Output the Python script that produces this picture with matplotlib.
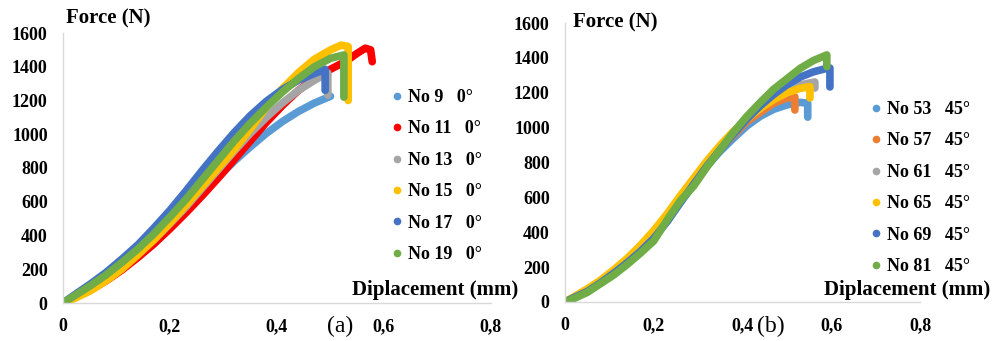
import matplotlib
matplotlib.use("Agg")
import matplotlib.pyplot as plt
from matplotlib.lines import Line2D

plt.rcParams['font.family'] = ['Liberation Serif', 'DejaVu Serif']

# ---- panel (a): 0 degree specimens ----
names_a = ["No 9   0°", "No 11   0°", "No 13   0°", "No 15   0°", "No 17   0°", "No 19   0°"]
colors_a = ["#5B9BD5", "#FF0000", "#A5A5A5", "#FFC000", "#4472C4", "#70AD47"]

x9 = [0, 0.02, 0.05, 0.08, 0.11, 0.14, 0.17, 0.20, 0.23, 0.26, 0.29, 0.32, 0.35, 0.38, 0.41, 0.44, 0.47, 0.50]
f9 = [0, 30, 75, 135, 200, 275, 360, 450, 545, 645, 745, 840, 925, 1005, 1075, 1135, 1185, 1225]
x11 = [0, 0.02, 0.05, 0.08, 0.11, 0.14, 0.17, 0.20, 0.23, 0.26, 0.29, 0.32, 0.35, 0.38, 0.41, 0.44,
       0.47, 0.50, 0.53, 0.55, 0.565, 0.575, 0.578]
f11 = [0, 35, 75, 130, 195, 270, 350, 440, 535, 635, 740, 850, 960, 1070, 1170, 1260,
       1330, 1385, 1435, 1480, 1510, 1500, 1430]
x13 = [0, 0.02, 0.05, 0.08, 0.11, 0.14, 0.17, 0.20, 0.23, 0.26, 0.29, 0.32, 0.35, 0.38, 0.41, 0.44,
       0.47, 0.495, 0.495]
f13 = [0, 30, 80, 140, 210, 290, 375, 470, 570, 680, 790, 900, 1005, 1100, 1185, 1260,
       1320, 1363, 1232]
x15 = [0, 0.02, 0.05, 0.08, 0.11, 0.14, 0.17, 0.20, 0.23, 0.26, 0.29, 0.32, 0.35, 0.38, 0.41, 0.44,
       0.47, 0.50, 0.52, 0.533, 0.533]
f15 = [0, 25, 70, 130, 200, 285, 375, 475, 580, 690, 800, 910, 1030, 1160, 1270, 1365,
       1445, 1500, 1528, 1520, 1200]
x17 = [0, 0.02, 0.05, 0.08, 0.11, 0.14, 0.17, 0.20, 0.23, 0.26, 0.29, 0.32, 0.35, 0.38, 0.41, 0.44,
       0.47, 0.49, 0.49]
f17 = [0, 45, 110, 180, 260, 345, 445, 550, 665, 785, 900, 1010, 1110, 1195, 1265, 1320,
       1360, 1385, 1260]
x19 = [0, 0.02, 0.05, 0.08, 0.11, 0.14, 0.17, 0.20, 0.23, 0.26, 0.29, 0.32, 0.35, 0.38, 0.41, 0.44,
       0.47, 0.50, 0.525, 0.525]
f19 = [0, 40, 100, 165, 240, 320, 410, 510, 615, 730, 845, 960, 1065, 1160, 1250, 1330,
       1400, 1450, 1470, 1220]
xs_a = [x9, x11, x13, x15, x17, x19]
fs_a = [f9, f11, f13, f15, f17, f19]

# ---- panel (b): 45 degree specimens ----
names_b = ["No 53   45°", "No 57   45°", "No 61   45°", "No 65   45°", "No 69   45°", "No 81   45°"]
colors_b = ["#5B9BD5", "#ED7D31", "#A5A5A5", "#FFC000", "#4472C4", "#70AD47"]

x53 = [0, 0.02, 0.05, 0.08, 0.11, 0.14, 0.17, 0.20, 0.23, 0.26, 0.29, 0.32, 0.35, 0.38, 0.41, 0.44,
       0.47, 0.50, 0.53, 0.547, 0.547]
f53 = [0, 22, 60, 110, 165, 225, 295, 375, 470, 575, 680, 780, 865, 940, 1010, 1065,
       1105, 1130, 1145, 1140, 1060]
x57 = [0, 0.05, 0.11, 0.17, 0.23, 0.29, 0.35, 0.41, 0.47, 0.50, 0.518, 0.518]
f57 = [0, 65, 170, 300, 480, 690, 880, 1035, 1140, 1170, 1176, 1101]
x61 = [0, 0.05, 0.11, 0.17, 0.23, 0.29, 0.35, 0.41, 0.47, 0.50, 0.53, 0.563, 0.563]
f61 = [0, 65, 170, 300, 480, 690, 885, 1050, 1170, 1215, 1245, 1262, 1227]
x65 = [0, 0.02, 0.05, 0.08, 0.11, 0.14, 0.17, 0.20, 0.23, 0.26, 0.29, 0.32, 0.35, 0.38, 0.41, 0.44,
       0.47, 0.50, 0.53, 0.552, 0.552]
f65 = [0, 30, 75, 125, 185, 250, 325, 410, 505, 610, 710, 810, 900, 980, 1050, 1110,
       1160, 1200, 1225, 1235, 1170]
x69 = [0, 0.02, 0.05, 0.08, 0.11, 0.14, 0.17, 0.20, 0.23, 0.26, 0.29, 0.32, 0.35, 0.38, 0.41, 0.44,
       0.47, 0.50, 0.53, 0.56, 0.59, 0.597, 0.597]
f69 = [0, 25, 60, 110, 165, 225, 290, 365, 460, 570, 675, 780, 875, 965, 1050, 1125,
       1190, 1245, 1290, 1320, 1340, 1342, 1233]
x81 = [0, 0.02, 0.05, 0.08, 0.11, 0.14, 0.17, 0.20, 0.23, 0.26, 0.29, 0.32, 0.35, 0.38, 0.41, 0.44,
       0.47, 0.50, 0.53, 0.56, 0.59, 0.59]
f81 = [0, 20, 55, 105, 155, 215, 280, 350, 470, 580, 665, 775, 875, 975, 1065, 1145,
       1220, 1280, 1340, 1385, 1417, 1350]
xs_b = [x53, x57, x61, x65, x69, x81]
fs_b = [f53, f57, f61, f65, f69, f81]

xticks = [0, 0.2, 0.4, 0.6, 0.8]
xticklabels = ["0", "0,2", "0,4", "0,6", "0,8"]
yticks = [0, 200, 400, 600, 800, 1000, 1200, 1400, 1600]

fig = plt.figure(figsize=(9.95, 3.41), dpi=100)
ax1 = fig.add_axes([63/995, 38/341, 428/995, 270/341])
ax2 = fig.add_axes([565/995, 39/341, 355/995, 279/341])


def style(ax):
    ax.set_xlim(0, 0.8)
    ax.set_ylim(0, 1600)
    ax.set_xticks(xticks)
    ax.set_xticklabels(xticklabels)
    ax.set_yticks(yticks)
    for s in ["top", "right"]:
        ax.spines[s].set_visible(False)
    for s in ["left", "bottom"]:
        ax.spines[s].set_color("#D9D9D9")
        ax.spines[s].set_linewidth(1)
    ax.tick_params(length=0, labelsize=13)
    ax.tick_params(axis="y", pad=11)
    ax.tick_params(axis="x", pad=11)
    for lab in ax.get_xticklabels() + ax.get_yticklabels():
        lab.set_fontweight("bold")


def draw(ax, xs, fs, colors, names, anchor):
    for x, f, c in zip(xs, fs, colors):
        ax.plot(x, f, color=c, lw=5.5, solid_capstyle="round", solid_joinstyle="round")
    handles = [Line2D([], [], ls="", marker="o", ms=4.5, color=c) for c in colors]
    ax.legend(handles, names, loc="upper left", bbox_to_anchor=anchor,
              bbox_transform=fig.transFigure, frameon=False, borderpad=0,
              borderaxespad=0, handlelength=0.6, handletextpad=0.3, labelspacing=0.8,
              prop={"weight": "bold", "size": 13})


style(ax1)
style(ax2)
draw(ax1, xs_a, fs_a, colors_a, names_a, (392/995, 1 - 89/341))
draw(ax2, xs_b, fs_b, colors_b, names_b, (871/995, 1 - 101/341))

fig.text(66/995, 1 - 18/341, "Force (N)", fontsize=15, fontweight="bold", va="center")
fig.text(573/995, 1 - 22/341, "Force (N)", fontsize=15, fontweight="bold", va="center")
fig.text(518/995, 1 - 290/341, "Diplacement (mm)", fontsize=15, fontweight="bold",
         va="center", ha="right")
fig.text(990/995, 1 - 290/341, "Diplacement (mm)", fontsize=15, fontweight="bold",
         va="center", ha="right")
fig.text(340/995, 1 - 326/341, "(a)", fontsize=17, va="center", ha="center")
fig.text(771/995, 1 - 326/341, "(b)", fontsize=17, va="center", ha="center")

plt.savefig("out.png", dpi=100)
plt.close()
